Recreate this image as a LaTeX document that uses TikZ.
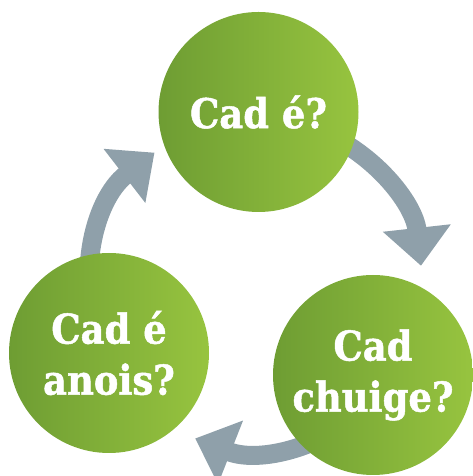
\documentclass[tikz,border=0pt]{standalone}
\usepackage{fontspec}
\setmainfont{DejaVu Serif}[FakeStretch=0.9, BoldFeatures={FakeBold=1.2}]
\usetikzlibrary{arrows.meta,backgrounds}
\definecolor{gL}{HTML}{6E9D33}
\definecolor{gR}{HTML}{97C43F}
\definecolor{arrgray}{HTML}{8FA0AA}
\begin{document}
\begin{tikzpicture}[x=1pt,y=1pt,
  bubble/.style={circle, minimum size=200pt, inner sep=0pt, left color=gL, right color=gR,
    text=white, font=\fontsize{41}{51}\selectfont\bfseries, align=center},
  cyc/.style={draw=arrgray, line width=19pt, -{Triangle[width=66pt,length=38pt]}}]
\useasboundingbox (0,0) rectangle (472,476);
\coordinate (O) at (256,192);
\node[bubble] (q1) at (258.5,364) {Cad é?};
\node[bubble] (q2) at (373,101) {Cad\\chuige?};
\node[bubble] (q3) at (109,123) {Cad é\\anois?};
\begin{scope}[on background layer]
\draw[cyc] ([shift={(70:166)}]O) arc[start angle=70,end angle=6.3,radius=166];
\draw[cyc] ([shift={(-40:166)}]O) arc[start angle=-40,end angle=-111.5,radius=166];
\draw[cyc] ([shift={(205:166)}]O) arc[start angle=205,end angle=127.7,radius=166];
\end{scope}
\end{tikzpicture}
\end{document}
